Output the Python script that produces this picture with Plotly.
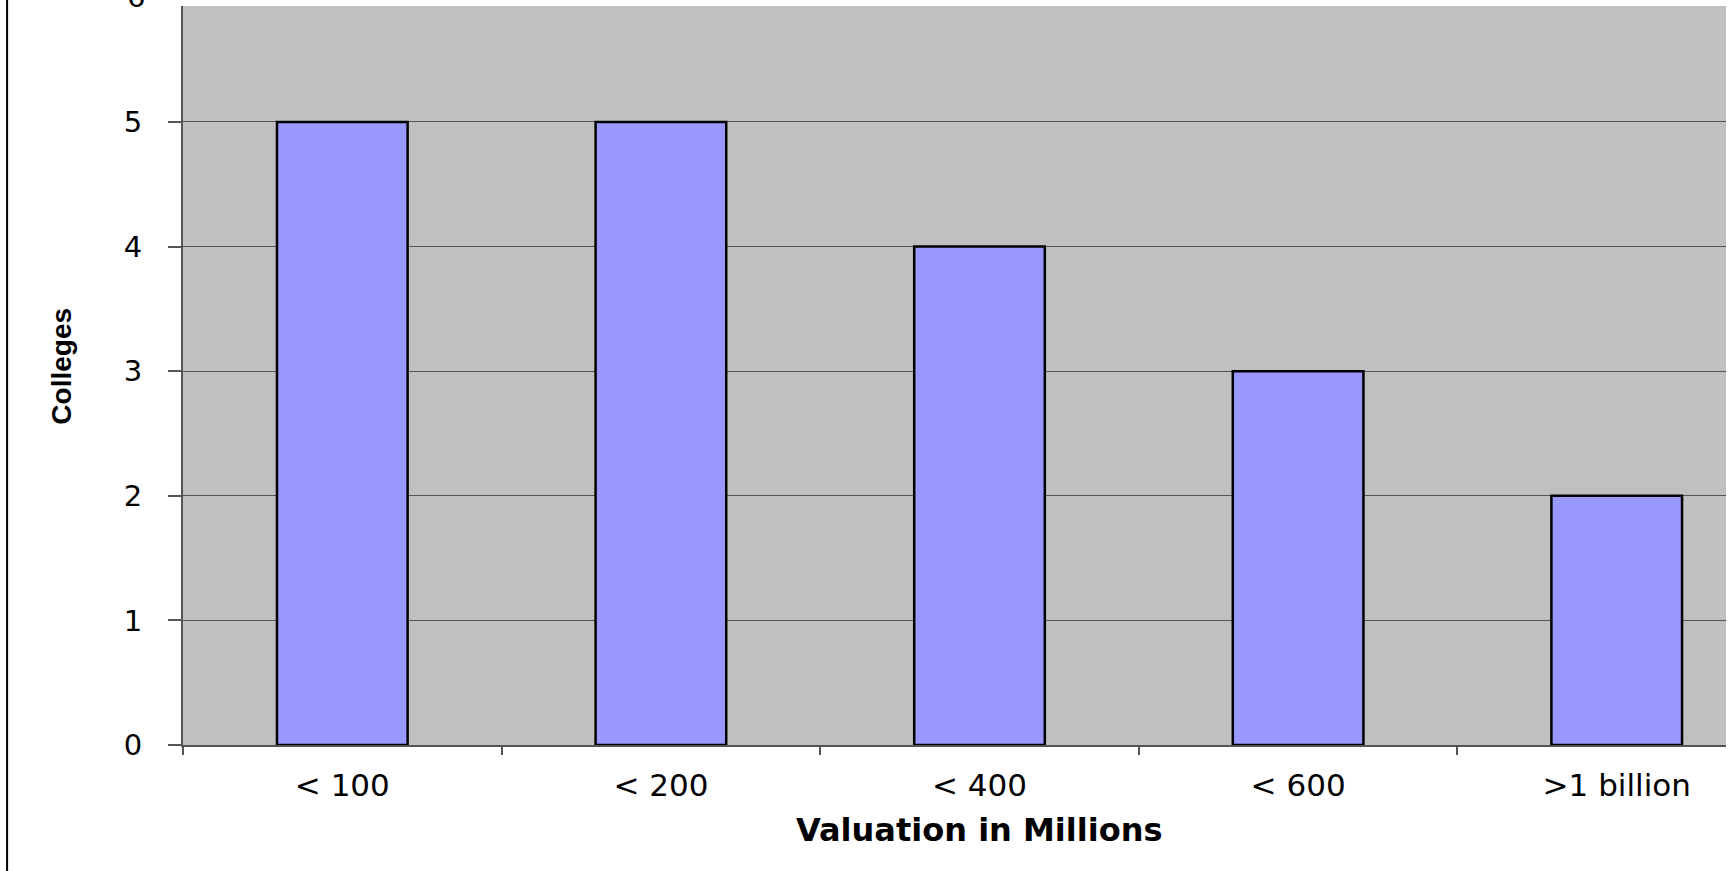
import plotly.graph_objects as go

# Colleges grouped by endowment valuation
categories = ["< 100", "< 200", "< 400", "< 600", ">1 billion"]
colleges = [5, 5, 4, 3, 2]
y_ticks = [0, 1, 2, 3, 4, 5]
Y_MAX = 5.93

FONT = "Liberation Sans, Arial, Helvetica, sans-serif"
WIDE = "DejaVu Sans, Verdana, sans-serif"

fig = go.Figure()
fig.add_trace(go.Bar(
    x=categories,
    y=colleges,
    width=0.41,
    marker=dict(color="#9999FF", line=dict(color="#000000", width=2.5)),
    hoverinfo="x+y",
))

fig.update_layout(
    width=1730,
    height=871,
    margin=dict(l=183, r=4, t=6, b=126),
    paper_bgcolor="#FFFFFF",
    plot_bgcolor="#C0C0C0",
    showlegend=False,
    font=dict(family=FONT, color="#000000"),
    xaxis=dict(
        type="category",
        range=[-0.5, 4.343],
        tickson="boundaries",
        ticks="outside",
        ticklen=8,
        tickwidth=1.5,
        tickcolor="#555555",
        showline=True,
        linecolor="#555555",
        linewidth=1.5,
        showgrid=False,
        tickfont=dict(size=31, family=WIDE),
        ticklabelstandoff=12,
    ),
    yaxis=dict(
        range=[0, Y_MAX],
        tickvals=y_ticks,
        ticks="outside",
        ticklen=13,
        tickwidth=1.5,
        tickcolor="#555555",
        showline=True,
        linecolor="#555555",
        linewidth=2,
        showgrid=True,
        gridcolor="#555555",
        gridwidth=1,
        zeroline=False,
        tickfont=dict(size=29, family=WIDE),
        ticklabelstandoff=20,
    ),
)

# Tick label "6" sits just past the top of the plotted range, mostly cut off
fig.add_annotation(
    text="6", xref="paper", yref="paper", x=-0.0233, y=6 / Y_MAX,
    xanchor="right", yanchor="middle", showarrow=False,
    font=dict(size=29, family=WIDE, color="#000000"),
)

# Axis titles
fig.add_annotation(
    text="<b>Valuation in Millions</b>", xref="paper", yref="paper",
    x=0.5159, y=-0.115, xanchor="center", yanchor="middle", showarrow=False,
    font=dict(size=32, family=WIDE, color="#000000"),
)
fig.add_annotation(
    text="<b>Colleges</b>", xref="paper", yref="paper",
    x=-0.0784, y=0.512, xanchor="center", yanchor="middle", showarrow=False,
    textangle=-90,
    font=dict(size=28, family=FONT, color="#000000"),
)

# Frame line along the left edge of the page
fig.add_shape(
    type="line", xref="paper", yref="paper",
    x0=-0.114, x1=-0.114, y0=-0.171, y1=1.01,
    line=dict(color="#000000", width=2),
)

fig.write_html("out.html")
